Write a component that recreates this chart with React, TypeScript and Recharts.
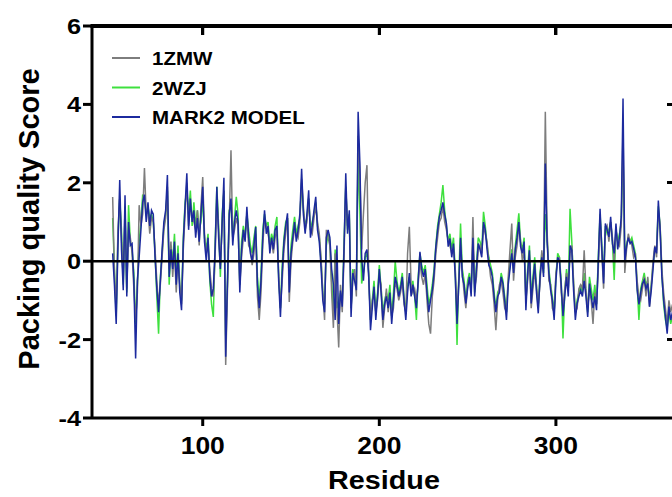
import React from 'react';
import { LineChart, Line, XAxis, YAxis, ReferenceLine, Legend } from 'recharts';

// Residue numbering of the first value in each series
const residueStart = 49;

// MARK2 MODEL packing quality score, residues 49..366
const mark2Model = [
  0.2, -0.6, -1.6, 0.4, 2.07, 0.3, -0.74, 1.68, -0.9, 1.0,
  0.4, 0.45, -0.5, -2.48, -0.5, 0.1, 0.8, 1.5, 1.7, 1.0,
  1.5, 0.9, 1.3, 1.2, 0.1, -0.7, -1.3, -0.5, 0.3, 1.0,
  1.3, 2.2, -0.4, 0.3, -0.2, 0.5, -0.6, 0.2, -0.8, -1.25,
  0.5, 1.4, 2.24, 0.8, 1.6, 1.0, 1.3, 0.6, 1.1, 0.5,
  1.2, 1.9, 0.5, 0.0, 0.6, -0.4, -0.9, -0.7, 0.3, 1.9,
  0.6, -0.2, 1.0, 2.13, -2.44, -0.5, 1.2, 1.6, 0.4, 1.0,
  1.3, 1.0, -0.8, 0.3, 0.8, 0.5, 1.39, 0.6, 0.2, 0.0,
  0.4, 0.87, -0.6, -1.2, -0.5, 0.6, 1.3, 0.7, 0.9, 0.2,
  0.6, 0.3, 0.8, 0.9, -0.5, -1.42, -0.3, 0.5, 0.9, 1.22,
  -0.8, 0.2, 0.6, 1.0, 0.5, 0.8, 1.2, 2.36, 1.2, 0.7,
  1.2, 1.81, 0.6, 0.9, 1.3, 1.64, 0.8, 0.5, -0.15, -1.0,
  -1.3, 0.6, 0.8, 0.6, -0.2, -0.6, -1.5, 0.4, -1.6, -0.75,
  -1.16, 0.3, 2.24, 0.7, 1.3, -1.42, -0.3, -0.5, -0.74, 3.81,
  2.5, 0.1, -0.5, 0.2, 0.3, -0.4, -1.76, -1.2, -0.65, -1.5,
  -0.9, -0.2, -0.8, -1.5, -1.1, -0.9, -1.2, -0.8, -1.6, -1.0,
  -0.4, -0.6, -0.9, -0.7, -0.4, -1.0, -1.5, -0.8, -0.3, -0.9,
  -0.6, -0.9, -1.2, -0.5, 0.24, -0.2, -0.4, -0.2, -0.8, -1.3,
  -1.0, -0.74, -0.3, 0.37, 0.8, 1.13, 1.3, 1.5, 1.2, 0.96,
  0.37, 0.58, 0.1, 0.45, -0.4, -1.6, -0.6, 0.6, -0.4, -0.6,
  -1.08, -0.7, -0.4, -0.9, 0.6, -0.9, -0.2, 0.45, 0.3, 0.1,
  1.0, 0.8, 0.3, -0.1, -0.2, -0.4, -0.9, -1.3, -0.9, -0.8,
  -0.4, -0.57, -1.0, -1.5, -0.6, -0.2, 0.2, -0.3, 0.3, 0.6,
  1.0, 0.37, 0.2, 0.5, -1.25, -0.3, 0.28, -1.08, -0.5, -0.06,
  -0.8, -1.33, -0.4, 0.1, -0.4, 2.49, 0.5, -0.3, -0.74, -1.0,
  -1.5, -0.5, 0.1, 0.0, -0.6, -1.4, -0.9, -0.4, -0.9, 0.4,
  0.28, -0.74, -1.5, -1.08, -0.9, -0.74, -0.9, -0.5, -0.9, -1.42,
  -0.57, -0.9, -1.2, -0.9, -1.25, 0.0, 1.34, 0.3, -0.57, 0.96,
  0.8, 0.62, 1.13, 0.45, 0.2, 0.96, 0.3, 0.62, 1.13, 4.15,
  0.0, 0.37, 0.6, 0.45, 0.5, 0.32, 0.1, -0.74, -1.1, -0.8,
  -0.57, -0.48, -0.7, -0.57, -1.16, -0.74, -0.2, 0.37, 0.2, 1.55,
  0.8, -0.4, -1.0, -1.42, -1.85, -1.16, -1.5, -1.3,
];

// 1ZMW packing quality score, residues 49..366
const zmw1 = [
  1.64, -0.3, -1.2, 0.8, 1.6, 0.6, -0.5, 1.4, -0.7, 0.8,
  0.6, 0.2, -0.7, -1.5, -0.8, 1.43, 0.9, 1.2, 2.38, 1.2,
  1.3, 0.7, 1.1, 1.0, 0.3, -0.5, -1.1, -0.6, 0.1, 0.8,
  1.1, 1.9, -0.2, 0.5, -0.4, 0.3, -0.8, 0.1, -0.6, -1.1,
  0.3, 1.2, 2.0, 0.9, 1.4, 1.2, 1.0, 0.8, 1.3, 0.4,
  1.4, 2.15, 0.7, 0.2, 0.4, -0.2, -0.7, -0.9, 0.1, 1.6,
  0.8, -0.1, 0.9, 1.8, -2.65, -0.8, 1.0, 2.83, 0.6, 0.8,
  1.1, 0.9, -0.6, 0.1, 0.6, 0.7, 1.2, 0.4, 0.3, -0.1,
  0.2, 0.7, -0.9, -1.5, -0.8, 0.4, 1.1, 0.9, 0.7, 0.4,
  0.5, 0.2, 0.6, 0.8, -0.3, -1.2, -0.5, 0.3, 0.7, 1.1,
  -1.04, 0.0, 0.5, 0.8, 0.7, 0.6, 1.0, 2.1, 1.4, 0.8,
  1.0, 1.6, 0.8, 0.7, 1.1, 1.4, 1.0, 0.7, 0.1, -0.8,
  -1.5, 0.8, 0.6, 0.4, -0.8, -1.7, 0.2, -1.2, -2.2, -0.6,
  -1.3, 0.1, 1.9, 0.9, 1.1, -1.2, -0.5, -0.2, -0.9, 3.2,
  2.2, 0.3, 1.2, 2.0, 2.45, -0.4, -1.5, -1.0, -0.8, -1.3,
  -1.0, -0.4, -0.6, -1.7, -1.2, -0.7, -1.3, -0.9, -1.4, -1.2,
  -0.5, -0.7, -1.0, -0.8, -0.5, -1.1, -1.3, 0.2, 0.88, -0.6,
  -0.8, -0.7, -1.0, -0.6, 0.0, -0.4, -0.6, -0.3, -1.0, -1.6,
  -1.85, -0.9, -0.5, 0.2, 0.6, 1.0, 1.1, 1.4, 1.0, 0.8,
  0.5, 0.4, 0.2, 0.3, -0.2, -1.3, -0.5, 0.4, -0.3, -0.8,
  -1.2, -0.6, -0.5, -0.7, 1.13, -0.7, -0.4, 0.3, 0.4, 0.2,
  0.9, 0.7, 0.5, 0.0, -0.4, -0.6, -1.1, -1.76, -1.0, -0.6,
  -0.5, -0.8, -1.2, -1.3, -0.4, 0.3, 0.96, -0.5, 0.1, 0.4,
  0.9, 0.5, 0.0, 0.3, -1.0, -0.5, 0.1, -1.2, -0.7, -0.3,
  -0.6, -1.1, -0.6, 0.28, -0.2, 3.81, 0.8, -0.5, -0.6, -1.2,
  -1.3, -0.3, 0.0, 0.1, -0.8, -1.2, -0.7, -0.3, -0.7, 0.2,
  0.4, -0.5, -1.3, -1.2, -0.7, -0.6, -0.7, 0.28, -0.7, -1.2,
  -0.7, -1.0, -1.6, -0.8, -1.1, -0.2, 1.1, 0.2, -0.7, 0.8,
  0.9, 0.5, 1.0, 0.6, 0.0, 0.8, 0.5, 0.4, 0.9, 3.4,
  -0.3, 0.3, 0.7, 0.5, 0.4, 0.1, 0.2, -0.5, -0.9, -1.0,
  -0.7, -0.4, -0.9, -0.4, -1.16, -0.6, 0.0, 0.4, 0.1, 1.3,
  0.9, -0.2, -0.8, -1.2, -1.6, -1.0, -1.3, -1.1,
];

// 2WZJ packing quality score, residues 49..366
const wzj2 = [
  1.1, -0.2, -1.4, 0.6, 1.6, 0.8, -0.6, 1.2, -0.8, 1.43,
  0.5, 0.3, -0.3, -1.6, -0.6, 0.5, 1.0, 1.7, 1.6, 1.2,
  1.4, 1.1, 1.2, 1.0, 0.2, -0.9, -1.85, -0.4, 0.2, 0.9,
  1.2, 1.8, -0.6, 0.4, 0.0, 0.7, -0.4, 0.4, -0.6, -1.0,
  0.6, 1.5, 1.8, 1.2, 1.8, 0.9, 1.5, 0.9, 1.3, 0.8,
  1.0, 1.6, 0.6, 0.3, 0.7, -0.5, -1.1, -1.42, 0.4, 1.9,
  0.9, -0.4, 1.2, 1.8, -1.9, -0.6, 1.3, 1.4, 0.6, 1.1,
  1.64, 1.2, -0.6, 0.5, 0.9, 0.6, 1.2, 0.8, 0.4, 0.2,
  0.6, 0.9, -0.4, -1.0, -0.3, 0.8, 1.2, 0.9, 1.0, 0.4,
  0.7, 0.5, 0.9, 1.13, -0.4, -1.2, -0.1, 0.6, 1.0, 1.1,
  -0.6, 0.4, 0.8, 1.13, 0.7, 0.9, 1.1, 2.0, 1.3, 0.9,
  1.1, 1.6, 0.8, 1.0, 1.2, 1.5, 0.9, 0.6, 0.0, -0.8,
  -1.1, 0.4, 0.7, 0.5, -0.5, -1.3, 0.3, -1.2, -1.0, -0.8,
  -1.0, 0.4, 1.9, 0.8, 1.2, -1.2, -0.2, -0.4, -0.6, 2.6,
  1.3, -0.57, -0.3, 0.1, 0.2, -0.3, -1.5, -1.0, -0.5, -1.3,
  -0.8, -0.1, -0.7, -1.3, -1.0, -0.8, -1.0, -0.6, -1.4, -0.8,
  0.0, -0.5, -0.8, -0.6, -0.3, -0.9, -1.3, -0.6, -0.4, -0.7,
  -0.5, -0.9, -1.5, -0.4, 0.2, -0.1, -0.3, -0.1, -0.6, -1.1,
  -0.9, -0.6, -0.2, 0.4, 0.9, 1.2, 1.5, 1.94, 1.3, 0.9,
  0.5, 0.7, 0.3, 0.6, -0.2, -2.14, -0.4, 0.96, -0.2, -0.5,
  -1.0, -0.5, -0.3, -0.7, 0.5, -0.8, -0.1, 0.6, 0.5, 0.3,
  1.26, 0.9, 0.4, 0.1, -0.1, -0.3, -0.8, -1.2, -0.8, -0.7,
  -0.3, -0.5, -0.9, -1.3, -0.5, -0.1, 0.3, -0.2, 0.4, 0.8,
  1.22, 0.5, 0.3, 0.6, -1.0, -0.2, 0.4, -0.9, -0.4, 0.1,
  -0.7, -1.2, -0.3, 0.2, -0.3, 1.2, 0.6, -0.2, -0.6, -0.9,
  -1.3, -0.4, 0.2, 0.1, -0.5, -1.97, -0.8, -0.2, -0.7, 1.34,
  0.5, -0.6, -1.3, -1.0, -0.8, -0.6, -0.8, -0.3, -0.8, -1.3,
  -0.4, -0.7, -1.0, -0.6, -1.1, 0.1, 1.2, 0.4, -0.4, 0.9,
  0.7, 0.8, 1.0, 0.5, -0.48, 0.8, 0.5, 0.7, 1.0, 2.8,
  0.2, 0.45, 0.6, 0.5, 0.6, 0.4, 0.2, -0.6, -1.5, -0.7,
  -0.5, -0.3, -0.6, -0.5, -1.0, -0.6, -0.1, 0.3, 0.3, 1.4,
  0.9, -0.3, -1.1, -1.5, -1.7, -1.3, -1.6, -1.4,
];

const xTicks = [100, 200, 300];
const yTicks = [-4, -2, 0, 2, 4, 6];
const rightTicks = [-2, 2, 4];
const xDomain = [37.3, 368];
const yDomain = [-4, 6];

const seriesNames = ['1ZMW', '2WZJ', 'MARK2 MODEL'];
const seriesColors = ['#7d7d7d', '#3ee03e', '#1c2a9e'];

const n = Math.min(mark2Model.length, zmw1.length, wzj2.length);
const data = Array.from({ length: n }, (_, i) => ({
  residue: residueStart + i,
  zmw: zmw1[i],
  wzj: wzj2[i],
  mark2: mark2Model[i],
}));

const FONT = '"Liberation Sans", Arial, sans-serif';

// plot frame geometry (pixels), matching the chart margins below
const PLOT_LEFT = 92;
const PLOT_TOP = 26;
const PLOT_W = 584;
const PLOT_H = 392;
const TICK_LEN = 9;
const frameX = (v: number) => PLOT_LEFT + ((v - xDomain[0]) / (xDomain[1] - xDomain[0])) * PLOT_W;
const frameY = (v: number) => PLOT_TOP + ((yDomain[1] - v) / (yDomain[1] - yDomain[0])) * PLOT_H;

const XTick = (props: any) => {
  const { x, y, payload } = props;
  return (
    <text
      transform={`translate(${x},${y + 26}) scale(1.15,1)`}
      textAnchor="middle"
      fontFamily={FONT}
      fontWeight="bold"
      fontSize={23}
      fill="#000"
    >
      {payload.value}
    </text>
  );
};

const YTick = (props: any) => {
  const { x, y, payload } = props;
  return (
    <text
      transform={`translate(${x},${y + 8}) scale(1.15,1)`}
      textAnchor="end"
      fontFamily={FONT}
      fontWeight="bold"
      fontSize={22}
      fill="#000"
    >
      {payload.value}
    </text>
  );
};

const LegendContent = () => (
  <svg width={230} height={90} style={{ display: 'block' }}>
    {seriesNames.map((name, i) => {
      const cy = 14 + i * 29.5;
      return (
        <g key={name}>
          <line x1={7} x2={35} y1={cy} y2={cy} stroke={seriesColors[i]} strokeWidth={2} />
          <text
            transform={`translate(47,${cy + 7}) scale(1.08,1)`}
            fontFamily={FONT}
            fontWeight="bold"
            fontSize={19}
            fill="#000"
          >
            {name}
          </text>
        </g>
      );
    })}
  </svg>
);

const bar = (left: number, top: number, width: number, height: number, key: string) => (
  <div
    key={key}
    style={{
      position: 'absolute',
      left,
      top,
      width,
      height,
      background: '#000',
      zIndex: 5,
    }}
  />
);

export default function App() {
  const axisStyle = { stroke: '#000', strokeWidth: 3 };
  return (
    <div
      style={{
        position: 'fixed',
        left: 0,
        top: 0,
        width: 672,
        height: 497,
        overflow: 'hidden',
        background: '#fff',
      }}
    >
      <LineChart
        width={700}
        height={497}
        data={data}
        margin={{ top: PLOT_TOP, right: 700 - PLOT_LEFT - PLOT_W, bottom: 29, left: 32 }}
      >
        <XAxis
          dataKey="residue"
          type="number"
          domain={xDomain}
          ticks={xTicks}
          allowDataOverflow
          height={50}
          axisLine={axisStyle}
          tickLine={axisStyle}
          tickSize={8}
          tickMargin={2}
          tick={<XTick />}
          interval={0}
        />
        <YAxis
          type="number"
          domain={yDomain}
          ticks={yTicks}
          allowDataOverflow
          width={60}
          axisLine={axisStyle}
          tickLine={axisStyle}
          tickSize={9}
          tickMargin={2}
          tick={<YTick />}
          interval={0}
        />
        <Legend
          layout="horizontal"
          verticalAlign="middle"
          align="center"
          wrapperStyle={{ left: 105, top: 44, width: 230, height: 90 }}
          content={<LegendContent />}
        />
        <Line
          dataKey="wzj"
          name={seriesNames[1]}
          stroke={seriesColors[1]}
          strokeWidth={1.5}
          dot={false}
          type="linear"
          isAnimationActive={false}
        />
        <Line
          dataKey="zmw"
          name={seriesNames[0]}
          stroke={seriesColors[0]}
          strokeWidth={1.5}
          dot={false}
          type="linear"
          isAnimationActive={false}
        />
        <Line
          dataKey="mark2"
          name={seriesNames[2]}
          stroke={seriesColors[2]}
          strokeWidth={1.5}
          dot={false}
          type="linear"
          isAnimationActive={false}
        />
        <ReferenceLine y={0} stroke="#000" strokeWidth={2.5} ifOverflow="visible" />
      </LineChart>
      {/* top frame line with inward ticks */}
      {bar(PLOT_LEFT - 1.5, PLOT_TOP - 2, PLOT_W + 3, 4, 'top-frame')}
      {xTicks.map((t) => bar(frameX(t) - 1.5, PLOT_TOP, 3, TICK_LEN, `top-${t}`))}
      {/* right frame (just outside the view) with inward ticks */}
      {bar(PLOT_LEFT + PLOT_W - 1.5, PLOT_TOP - 1.5, 3, PLOT_H + 3, 'right-frame')}
      {rightTicks.map((t) => bar(PLOT_LEFT + PLOT_W - TICK_LEN, frameY(t) - 1.5, TICK_LEN, 3, `right-${t}`))}
      <svg
        width={672}
        height={497}
        style={{ position: 'absolute', left: 0, top: 0, pointerEvents: 'none', zIndex: 6 }}
      >
        <line
          x1={PLOT_LEFT - 1.5}
          x2={672}
          y1={PLOT_TOP}
          y2={PLOT_TOP}
          stroke="#000"
          strokeWidth={4}
        />
        {xTicks.map((t) => (
          <line
            key={`top-svg-${t}`}
            x1={frameX(t)}
            x2={frameX(t)}
            y1={PLOT_TOP}
            y2={PLOT_TOP + TICK_LEN}
            stroke="#000"
            strokeWidth={3}
          />
        ))}
        <text
          transform="translate(39,219) rotate(-90)"
          textAnchor="middle"
          fontFamily={FONT}
          fontWeight="bold"
          fontSize={29}
          fill="#000"
        >
          Packing quality Score
        </text>
        <text
          transform="translate(384,489) scale(1.15,1)"
          textAnchor="middle"
          fontFamily={FONT}
          fontWeight="bold"
          fontSize={25}
          fill="#000"
        >
          Residue
        </text>
      </svg>
    </div>
  );
}
